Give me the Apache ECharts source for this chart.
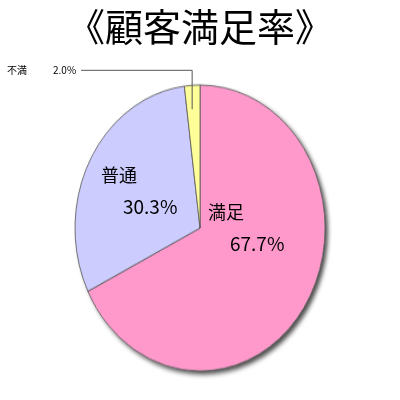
<!DOCTYPE html>
<html>
<head>
<meta charset="utf-8">
<script src="https://cdn.jsdelivr.net/npm/echarts@6/dist/echarts.min.js"></script>
<style>
html, body { margin: 0; padding: 0; background: #fff; }
#wrap { position: relative; width: 400px; height: 400px; }
#pie, #front { position: absolute; left: 0; top: 0; width: 400px; height: 400px; }
/* pie is drawn as a circle then stretched to an ellipse */
#pie { transform: scaleY(1.144); transform-origin: 200px 228px; }
</style>
</head>
<body>
<div id="wrap">
  <div id="pie"></div>
  <div id="front"></div>
</div>
<script>
var titleText = '《顧客満足率》';
var categories = ['満足', '普通', '不満'];
var values = [67.7, 30.3, 2.0];
var colors = ['#ff99cc', '#ccccff', '#ffff99'];

var FONT = '"Noto Sans CJK JP", sans-serif';
var CENTER = [200, 228];
var RADIUS = 125;

// label block anchors (left, middle) for the two big slices
var labelAnchor = [[208, 228], [101, 191]];

var pieData = categories.map(function (c, i) {
  return { name: c, value: values[i], itemStyle: { color: colors[i] } };
});

// back layer: the stretched pie
var pieChart = echarts.init(document.getElementById('pie'));
pieChart.setOption({
  animation: false,
  series: [
    {   // shadow disc under the slices
      type: 'pie',
      silent: true,
      z: 1,
      center: CENTER,
      radius: RADIUS,
      label: { show: false },
      labelLine: { show: false },
      itemStyle: {
        color: '#fff',
        shadowColor: 'rgba(0,0,0,0.7)',
        shadowBlur: 4,
        shadowOffsetX: 3,
        shadowOffsetY: 3
      },
      data: [1]
    },
    {
      type: 'pie',
      silent: true,
      z: 2,
      center: CENTER,
      radius: RADIUS,
      startAngle: 90,
      clockwise: true,
      label: { show: false },
      labelLine: { show: false },
      itemStyle: { borderColor: '#555', borderWidth: 0.8 },
      data: pieData
    }
  ]
});

// front layer: title and labels (not stretched)
var front = echarts.init(document.getElementById('front'));
front.setOption({
  animation: false,
  title: {
    text: titleText,
    left: 'center',
    top: 3,
    textStyle: { fontFamily: FONT, fontSize: 38, fontWeight: 'normal', color: '#000' }
  },
  series: [{
    type: 'pie',
    silent: true,
    center: CENTER,
    radius: RADIUS,
    startAngle: 90,
    clockwise: true,
    itemStyle: { color: 'rgba(0,0,0,0)' },
    label: {
      position: 'inside',
      fontFamily: FONT,
      color: '#000',
      align: 'left',
      formatter: function (p) {
        return '{n|' + p.name + '}\n{v|' + p.value.toFixed(1) + '%}';
      },
      rich: {
        n: { fontFamily: FONT, fontSize: 18, lineHeight: 32, color: '#000' },
        v: { fontFamily: FONT, fontSize: 19, lineHeight: 32, color: '#000', padding: [0, 0, 0, 22] }
      }
    },
    labelLayout: function (p) {
      var a = labelAnchor[p.dataIndex];
      if (a) return { x: a[0], y: a[1], align: 'left', verticalAlign: 'middle' };
      // small slice: make the leader line go straight up, then left
      var pts = p.labelLinePoints;
      if (!pts) return {};
      var x0 = pts[0][0], y1 = pts[1][1];
      return {
        labelLinePoints: [[x0, pts[0][1] + 6], [x0, y1], [pts[2][0], y1]]
      };
    },
    data: pieData.map(function (d, i) {
      if (i < 2) return { name: d.name, value: d.value };
      return {
        name: d.name,
        value: d.value,
        label: {
          position: 'outside',
          alignTo: 'edge',
          edgeDistance: 7,
          formatter: function (p) {
            return '{a|' + p.name + '}{b|' + p.value.toFixed(1) + '%}';
          },
          rich: {
            a: { fontFamily: FONT, fontSize: 10, width: 46, color: '#000' },
            b: { fontFamily: FONT, fontSize: 10, width: 32, color: '#000' }
          }
        },
        labelLine: {
          show: true,
          length: 33,
          length2: 10,
          lineStyle: { color: '#555', width: 1 }
        }
      };
    })
  }]
});
</script>
</body>
</html>
